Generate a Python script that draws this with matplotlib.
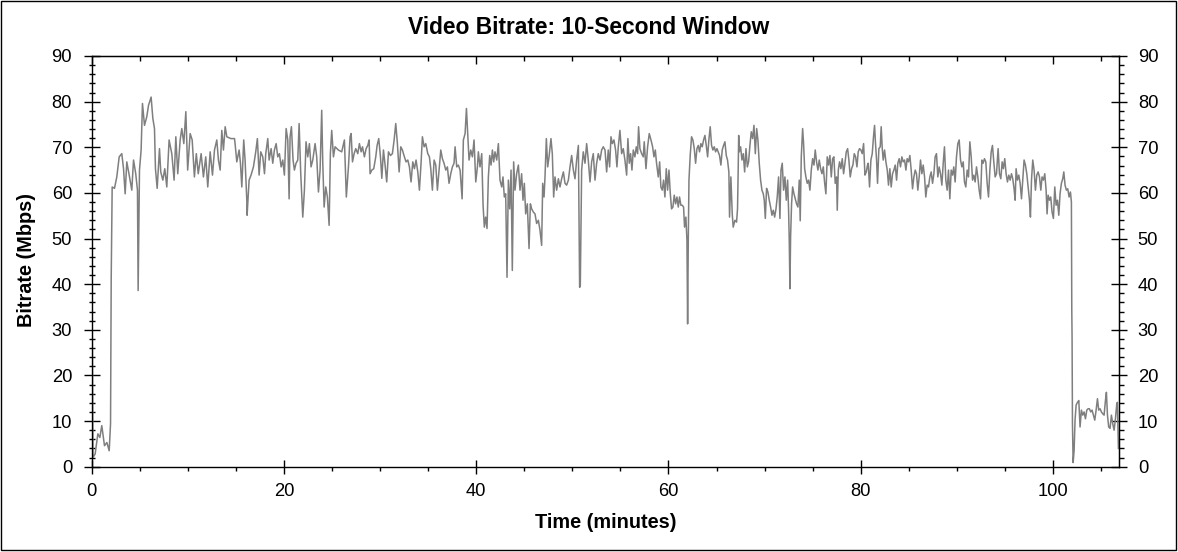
import numpy as np
import matplotlib
matplotlib.use("Agg")
import matplotlib.pyplot as plt
from matplotlib.ticker import MultipleLocator
from matplotlib.patches import Rectangle

plt.rcParams['font.family'] = ['Liberation Sans', 'DejaVu Sans']

# ---- data (time in minutes, bitrate in Mbps) ----
t_a = [0.0, 0.15, 0.38, 0.66, 0.87, 1.07, 1.35, 1.6, 1.84, 1.98, 2.05, 2.15, 2.39, 2.63, 2.88, 3.15, 3.33, 3.5,
       3.67, 3.92, 4.19, 4.37, 4.6, 4.78, 4.85, 4.99, 5.16, 5.3, 5.51, 5.75, 5.93, 6.2, 6.38, 6.55, 6.65, 6.83,
       7.07, 7.2, 7.42, 7.62, 7.83, 8.07, 8.35, 8.59, 8.77, 8.97, 9.22, 9.39, 9.6, 9.81, 10.0, 10.26, 10.47,
       10.7, 10.9, 11.1, 11.4, 11.64, 11.88, 12.09, 12.34, 12.58, 12.79, 13.03]
v_a = [61, 2, 2.8, 7.2, 6.4, 9.0, 4.6, 5.3, 3.5, 9.4, 41.5, 61.3, 61, 63.5, 67.9, 68.6, 65.3, 59.8,
       66.8, 63.9, 60.6, 67.2, 64.2, 60.6, 38.6, 65, 69.4, 79.6, 74.8, 76.7, 79.2, 81, 76.3, 74.1, 65.3, 61,
       69.7, 64.6, 62.8, 65.3, 61.3, 71.6, 68.6, 62.8, 72.3, 64.2, 71.6, 74.1, 70.8, 77.8, 65, 73, 71.6,
       63.5, 68.6, 64.2, 68.6, 63.5, 67.9, 61.3, 69, 63.9, 69.4, 71.6]

t_b = [13.2, 13.38, 13.55, 13.72, 13.9, 14.07, 14.5, 14.87, 14.93, 15.11, 15.35, 15.49, 15.63, 15.83, 15.97,
       16.15, 16.18, 16.39, 16.59, 16.84, 17.08, 17.25, 17.43, 17.6, 17.81, 17.99, 18.12, 18.33, 18.47, 18.68,
       18.85, 19.02, 19.2, 19.37, 19.54, 19.72, 19.89, 20.06, 20.24, 20.41, 20.55, 20.65, 20.79, 20.96, 21.1,
       21.27, 21.45, 21.59, 21.76, 21.97, 22.14, 22.31, 22.49, 22.66, 22.83, 23.01, 23.25, 23.42, 23.6, 23.77,
       23.94, 24.05, 24.19, 24.36, 24.53, 24.71, 24.84, 24.98, 25.16, 25.33, 25.67, 26.02, 26.3, 26.5]
v_b = [67.2, 65.0, 73.7, 69.4, 74.5, 72.3, 71.9, 71.9, 70.8, 66.8, 69.4, 66.5, 61.3, 71.6, 67.2,
       58.4, 55.1, 62.8, 63.9, 65.7, 69.0, 71.9, 63.9, 69.0, 67.9, 64.2, 68.6, 71.9, 67.2, 69.7,
       66.5, 69.4, 70.8, 67.9, 68.6, 65.7, 67.2, 63.9, 74.1, 71.6, 58.7, 72.3, 74.5, 67.2, 65.0,
       66.5, 67.2, 75.2, 64.2, 54.7, 60.6, 71.2, 67.9, 70.8, 65.7, 67.2, 70.8, 67.9, 60.2, 65.0,
       78.1, 66.5, 56.9, 61.3, 59.1, 52.9, 68.6, 73.7, 67.9, 70.1, 69.4, 69.0, 71.6, 59.1]

t_c = [26.72, 26.89, 27.0, 27.14, 27.31, 27.48, 27.69, 27.86, 28.04, 28.18, 28.38, 28.56, 28.73, 28.87, 28.97,
       29.15, 29.35, 29.56, 29.7, 29.87, 30.05, 30.19, 30.36, 30.53, 30.7, 30.88, 31.09, 31.29, 31.47, 31.64,
       31.81, 31.99, 32.16, 32.33, 32.54, 32.71, 32.89, 33.06, 33.23, 33.41, 33.58, 33.75, 33.93, 34.1, 34.27,
       34.41, 34.59, 34.76, 34.97, 35.14, 35.28, 35.45, 35.63, 35.8, 35.97, 36.15, 36.32, 36.49, 36.66, 36.84,
       37.01, 37.18, 37.36, 37.53, 37.7, 37.81, 37.98, 38.15, 38.33, 38.54, 38.67, 38.85, 38.99, 39.12, 39.26,
       39.44, 39.61, 39.78, 39.96, 40.13]
v_c = [65.7, 72.3, 73.0, 66.8, 68.6, 69.7, 68.6, 70.8, 69.0, 70.1, 67.9, 69.7, 70.4, 71.6, 64.2,
       65.0, 65.3, 67.9, 70.4, 71.9, 67.9, 63.2, 69.4, 66.1, 62.4, 69.0, 68.2, 68.6, 71.6, 75.2,
       70.8, 64.6, 70.1, 69.4, 67.9, 66.8, 67.2, 65.7, 62.4, 66.8, 65.3, 67.2, 64.6, 60.6, 66.5,
       72.3, 70.1, 70.8, 68.6, 67.9, 65.3, 60.6, 67.2, 66.1, 60.6, 65.0, 69.4, 67.5, 66.5, 65.0,
       65.7, 62.1, 64.2, 65.7, 66.5, 70.1, 65.7, 66.1, 65.0, 58.7, 71.6, 73.0, 78.5, 73.0, 67.2,
       69.4, 67.9, 71.6, 62.4, 65.7]

t_d = [40.23, 40.4, 40.58, 40.72, 40.85, 40.99, 41.13, 41.27, 41.41, 41.55, 41.69, 41.82, 41.96, 42.14, 42.31,
       42.48, 42.66, 42.79, 42.93, 43.07, 43.21, 43.35, 43.49, 43.63, 43.76, 43.9, 44.04, 44.21, 44.39, 44.56,
       44.73, 44.87, 45.01, 45.15, 45.32, 45.5, 45.64, 45.77, 45.95, 46.12, 46.29, 46.47, 46.64, 46.81, 46.92,
       47.06, 47.16, 47.3, 47.44, 47.58, 47.78, 47.92, 48.06, 48.2, 48.37, 48.55, 48.72, 48.89, 49.07, 49.24,
       49.41, 49.59, 49.76, 49.93, 50.11, 50.28, 50.45, 50.63, 50.76, 50.83, 50.97, 51.14, 51.32, 51.49, 51.66,
       51.84, 52.01, 52.18, 52.36, 52.53, 52.7, 52.88, 53.05, 53.22, 53.4, 53.57]
v_d = [69.0, 65.7, 68.6, 57.3, 52.5, 54.7, 52.2, 63.5, 68.2, 66.1, 69.4, 66.8, 69.0, 67.2, 70.8,
       62.8, 61.3, 63.5, 59.1, 59.8, 41.5, 62.8, 56.5, 65.0, 43.0, 66.8, 60.6, 64.2, 66.1, 60.6,
       64.2, 58.4, 62.1, 55.4, 57.6, 47.8, 57.6, 56.5, 55.8, 55.4, 53.3, 54.0, 51.8, 48.5, 62.1,
       59.1, 63.5, 71.9, 65.7, 67.9, 71.9, 68.6, 59.1, 63.5, 60.6, 63.1, 61.3, 63.1, 64.6, 62.1,
       61.7, 62.8, 65.7, 68.2, 65.0, 63.1, 67.2, 70.4, 39.3, 39.7, 65.0, 69.0, 66.5, 70.8, 67.2,
       62.4, 66.8, 68.6, 62.8, 66.5, 68.6, 67.2, 69.4, 70.1, 69.4, 64.6]

t_e = [53.74, 53.88, 54.02, 54.16, 54.33, 54.5, 54.64, 54.78, 54.95, 55.13, 55.3, 55.47, 55.65, 55.78, 55.92,
       56.06, 56.2, 56.34, 56.51, 56.65, 56.79, 56.89, 57.03, 57.21, 57.38, 57.48, 57.66, 57.83, 58.0, 58.18,
       58.35, 58.49, 58.63, 58.76, 58.94, 59.08, 59.21, 59.35, 59.49, 59.63, 59.77, 59.91, 60.05, 60.19, 60.32,
       60.46, 60.6, 60.74, 60.88, 61.02, 61.15, 61.29, 61.43, 61.57, 61.67, 61.81, 61.92, 61.99, 62.06, 62.13,
       62.26, 62.4, 62.54, 62.68, 62.82, 62.96, 63.1, 63.23, 63.37, 63.51, 63.65, 63.79, 63.93, 64.07, 64.2,
       64.34, 64.48, 64.62, 64.76, 64.9, 65.04, 65.17, 65.31, 65.45, 65.59, 65.73, 65.87, 66.01, 66.14, 66.28,
       66.35, 66.49, 66.63, 66.73, 66.91, 67.08, 67.18, 67.25]
v_e = [69.4, 65.7, 72.3, 70.8, 71.6, 69.4, 65.7, 70.1, 73.7, 68.6, 69.7, 67.2, 63.9, 71.9, 66.5,
       68.6, 65.0, 69.4, 67.9, 70.1, 68.6, 74.5, 69.7, 68.6, 67.9, 71.2, 65.3, 70.1, 73.0, 71.6,
       70.1, 67.9, 69.4, 66.5, 63.5, 66.8, 61.3, 60.6, 62.8, 59.1, 65.3, 60.6, 65.0, 59.8, 56.5,
       56.9, 59.5, 57.6, 59.1, 56.9, 59.1, 57.3, 57.3, 56.9, 52.5, 54.7, 49.6, 31.3, 49.6, 62.8,
       68.2, 72.3, 71.6, 69.7, 66.5, 69.7, 70.4, 69.0, 70.8, 70.1, 71.6, 72.6, 70.4, 67.9, 71.6,
       74.5, 70.4, 69.4, 70.1, 69.0, 69.7, 69.0, 68.2, 66.1, 69.4, 70.4, 71.2, 68.2, 67.2, 64.6,
       54.7, 63.5, 55.4, 52.5, 54.0, 53.6, 56.5, 65.0]

t_f = [67.3, 67.36, 67.5, 67.64, 67.78, 67.92, 68.06, 68.2, 68.33, 68.47, 68.61, 68.75, 68.89, 69.03, 69.17,
       69.3, 69.44, 69.58, 69.72, 69.86, 69.96, 70.07, 70.2, 70.34, 70.48, 70.62, 70.76, 70.9, 71.04, 71.18,
       71.31, 71.45, 71.59, 71.7, 71.83, 71.97, 72.11, 72.25, 72.39, 72.49, 72.56, 72.63, 72.7, 72.8, 72.91,
       73.05, 73.19, 73.32, 73.46, 73.6, 73.7, 73.81, 73.95, 74.05, 74.16, 74.29, 74.43, 74.57, 74.71, 74.85,
       74.99, 75.13, 75.26, 75.4, 75.54, 75.68, 75.82, 75.96, 76.1, 76.23, 76.37, 76.51, 76.65, 76.79, 76.93,
       77.07, 77.2, 77.34, 77.48, 77.55, 77.66, 77.79, 77.93, 78.07, 78.21, 78.35, 78.49, 78.63, 78.76, 78.9,
       79.04, 79.18, 79.32, 79.46, 79.6, 79.73, 79.87, 80.01, 80.15, 80.29, 80.43, 80.57, 80.7]
v_f = [72.6, 69.0, 70.1, 67.2, 68.6, 64.6, 69.7, 65.7, 66.8, 70.4, 73.4, 71.9, 74.8, 68.6, 74.1,
       71.6, 66.5, 62.8, 60.6, 59.8, 58.4, 54.4, 61.0, 60.2, 58.4, 56.9, 55.1, 56.2, 54.7, 56.5,
       59.1, 63.5, 54.4, 65.0, 66.5, 60.6, 63.5, 58.4, 62.8, 56.2, 49.6, 39.0, 50.4, 57.6, 61.3,
       59.8, 58.7, 57.6, 56.9, 62.8, 53.9, 67.9, 74.1, 70.8, 65.3, 63.5, 62.1, 62.8, 60.6, 65.0,
       67.5, 66.1, 69.4, 66.8, 65.0, 67.2, 65.3, 64.2, 65.7, 62.4, 59.8, 67.9, 66.1, 68.2, 63.5,
       67.5, 67.9, 62.1, 63.5, 56.2, 65.0, 66.8, 65.3, 67.5, 64.2, 66.5, 69.0, 69.7, 67.2, 63.5,
       65.3, 66.1, 68.6, 67.9, 65.7, 69.0, 69.7, 69.4, 68.6, 70.8, 63.9, 64.6, 66.1]

t_g = [80.77, 80.91, 81.05, 81.19, 81.32, 81.43, 81.53, 81.64, 81.74, 81.88, 82.02, 82.12, 82.23, 82.33, 82.47,
       82.61, 82.75, 82.88, 83.02, 83.16, 83.3, 83.44, 83.58, 83.72, 83.85, 83.99, 84.13, 84.27, 84.41, 84.55,
       84.69, 84.82, 84.96, 85.1, 85.24, 85.38, 85.52, 85.66, 85.79, 85.93, 86.07, 86.21, 86.35, 86.49, 86.63,
       86.76, 86.9, 87.04, 87.18, 87.32, 87.46, 87.6, 87.73, 87.87, 88.01, 88.15, 88.29, 88.43, 88.57, 88.7,
       88.84, 88.98, 89.12, 89.26, 89.4, 89.54, 89.67, 89.81, 89.95, 90.09, 90.23, 90.37, 90.51, 90.65, 90.78,
       90.92, 91.06, 91.2, 91.34, 91.48, 91.62, 91.75, 91.89, 92.03, 92.17, 92.31, 92.45, 92.59, 92.72, 92.86,
       93.0, 93.14, 93.28, 93.42, 93.56, 93.69, 93.83, 93.97, 94.11]
v_g = [66.5, 61.3, 67.2, 68.6, 72.3, 74.8, 70.8, 67.2, 62.1, 69.7, 70.1, 74.5, 69.7, 67.2, 69.4,
       66.8, 65.0, 61.7, 65.3, 61.3, 64.2, 65.0, 66.1, 62.8, 66.5, 67.5, 65.7, 67.9, 66.8, 67.2,
       65.0, 67.5, 66.8, 68.2, 65.0, 60.9, 63.5, 65.0, 64.2, 60.6, 63.5, 67.2, 64.2, 66.1, 63.5,
       59.1, 61.7, 61.3, 63.5, 64.6, 62.1, 64.2, 67.9, 68.6, 63.5, 65.7, 64.2, 61.7, 66.5, 70.1,
       62.8, 60.6, 65.0, 58.7, 65.0, 63.9, 65.7, 62.4, 67.9, 70.8, 71.6, 67.2, 65.7, 66.8, 62.4,
       61.3, 65.0, 63.5, 71.2, 67.9, 62.8, 63.9, 62.4, 65.7, 63.5, 60.6, 58.7, 67.2, 66.5, 67.5,
       66.8, 62.1, 59.1, 65.0, 69.0, 70.4, 66.8, 63.5, 64.2]

t_h = [94.28, 94.42, 94.56, 94.7, 94.83, 94.97, 95.11, 95.25, 95.39, 95.53, 95.67, 95.8, 95.94, 96.05, 96.15,
       96.29, 96.43, 96.57, 96.71, 96.84, 96.98, 97.12, 97.26, 97.4, 97.54, 97.64, 97.75, 97.88, 98.02, 98.16,
       98.3, 98.44, 98.58, 98.72, 98.85, 98.99, 99.13, 99.27, 99.37, 99.48, 99.62, 99.75, 99.89, 100.03, 100.17,
       100.31, 100.45, 100.59, 100.72, 100.86, 101.0, 101.11, 101.24, 101.38, 101.52, 101.66, 101.8, 101.9]
v_h = [69.7, 64.2, 63.1, 66.8, 65.3, 67.5, 64.2, 62.4, 63.9, 62.8, 64.2, 63.1, 60.9, 58.4, 65.3,
       62.8, 63.9, 62.1, 58.7, 62.8, 67.2, 66.1, 64.2, 61.3, 58.4, 54.7, 62.8, 67.2, 65.0, 60.6,
       63.9, 64.6, 63.5, 60.6, 63.5, 62.8, 64.2, 60.6, 55.4, 59.5, 58.4, 59.1, 55.8, 54.4, 61.3,
       57.3, 58.4, 55.1, 59.8, 62.1, 63.1, 64.6, 61.7, 60.6, 60.9, 59.1, 60.2, 58.0]

t_i = [101.94, 101.97, 102.01, 102.08, 102.18, 102.28, 102.39, 102.53, 102.67, 102.8, 102.94, 103.08, 103.22,
       103.36, 103.5, 103.64, 103.77, 103.91, 104.05, 104.19, 104.33, 104.47, 104.61, 104.74, 104.88, 105.02,
       105.16, 105.3, 105.44, 105.54, 105.65, 105.78, 105.92, 106.06, 106.2, 106.34, 106.48, 106.62, 106.68,
       106.79]
v_i = [34.3, 28.4, 9.4, 0.9, 3.5, 10.2, 13.5, 14.1, 14.5, 8.7, 12.4, 11.3, 12.0,
       10.5, 12.4, 12.7, 12.7, 12.0, 12.4, 11.3, 10.2, 12.4, 14.9, 12.4, 12.7, 12.0,
       11.6, 11.3, 14.5, 16.3, 11.3, 8.7, 8.4, 11.3, 9.4, 8.0, 10.5, 13.8, 14.1,
       4.0]

times = np.concatenate([t_a, t_b, t_c, t_d, t_e, t_f, t_g, t_h, t_i])
bitrate = np.concatenate([v_a, v_b, v_c, v_d, v_e, v_f, v_g, v_h, v_i])

title = "Video Bitrate: 10-Second Window"
xlabel = "Time (minutes)"
ylabel = "Bitrate (Mbps)"

# ---- figure ----
W, H = 1178, 552
fig = plt.figure(figsize=(W / 100, H / 100), dpi=100)
fig.patch.set_facecolor('white')

ax_l, ax_r, ax_t, ax_b = 91.5, 1119, 56, 466.7
ax = fig.add_axes([ax_l / W, 1 - ax_b / H, (ax_r - ax_l) / W, (ax_b - ax_t) / H])
ax.plot(times, bitrate, color='#7f7f7f', lw=1.1)
ax.set_xlim(0, 106.85)
ax.set_ylim(0, 90)

for s in ax.spines.values():
    s.set_linewidth(1.0)
    s.set_color('black')

ax.xaxis.set_major_locator(MultipleLocator(20))
ax.xaxis.set_minor_locator(MultipleLocator(5))
ax.yaxis.set_major_locator(MultipleLocator(10))
ax.yaxis.set_minor_locator(MultipleLocator(2))

fs_tick = 13.2
ax.tick_params(axis='x', which='major', direction='inout', length=10.5, width=1, pad=6.5,
               labelsize=fs_tick, top=False)
ax.tick_params(axis='x', which='minor', direction='out', length=2.6, width=1, top=False)
ax.tick_params(axis='y', which='major', direction='inout', length=11, width=1, pad=8.5,
               labelsize=fs_tick, right=False)
ax.tick_params(axis='y', which='minor', direction='inout', length=4.2, width=1, right=False)

# top ticks (inward, no labels)
axt = ax.secondary_xaxis('top')
axt.xaxis.set_major_locator(MultipleLocator(20))
axt.xaxis.set_minor_locator(MultipleLocator(5))
axt.tick_params(which='major', direction='in', length=5.8, width=1, labeltop=False)
axt.tick_params(which='minor', direction='in', length=3.6, width=1)

# right ticks with labels
axr = ax.secondary_yaxis('right')
axr.yaxis.set_major_locator(MultipleLocator(10))
axr.yaxis.set_minor_locator(MultipleLocator(2))
axr.tick_params(which='major', direction='inout', length=11, width=1, pad=8, labelsize=fs_tick)
axr.tick_params(which='minor', direction='out', length=3.6, width=1)

fig.text(589 / W, 1 - 27 / H, title, ha='center', va='center', fontsize=16.4, fontweight='bold')
fig.text(606 / W, 1 - 523 / H, xlabel, ha='center', va='center', fontsize=14.3, fontweight='bold')
fig.text(26 / W, 1 - 260 / H, ylabel, ha='center', va='center', fontsize=14.3, fontweight='bold',
         rotation=90)

fig.add_artist(Rectangle((1 / W, 2 / H), 1175 / W, 549 / H, transform=fig.transFigure,
                         fill=False, ec='black', lw=1.0))

fig.savefig('out.png', dpi=100)
